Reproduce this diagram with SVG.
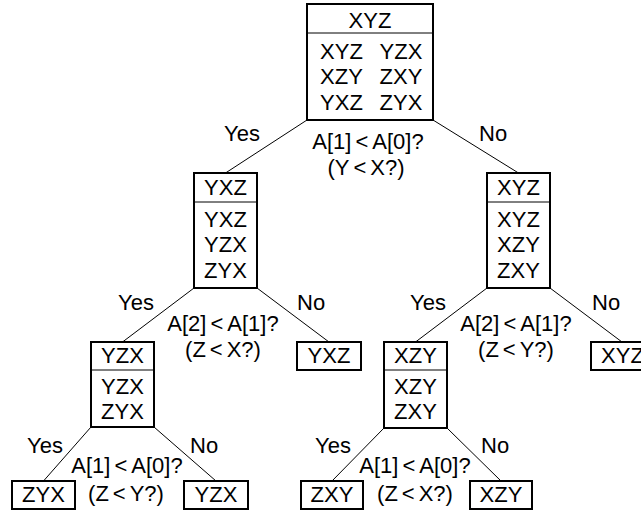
<svg xmlns="http://www.w3.org/2000/svg" width="641" height="510" viewBox="0 0 641 510">
<style>
text{font-family:"Liberation Sans",Arial,Helvetica,sans-serif;font-size:22px;fill:#000}
.m{text-anchor:middle}
.box{fill:#fff;stroke:#000;stroke-width:2}
.sep{stroke:#000;stroke-width:1}
.edge{stroke:#000;stroke-width:1;fill:none}
</style>
<rect width="641" height="510" fill="#fff"/>
<g id="connectors">
<line class="edge" x1="307" y1="120" x2="225.5" y2="173"/>
<line class="edge" x1="433" y1="120" x2="518.5" y2="173"/>
<line class="edge" x1="194" y1="288" x2="122.5" y2="342"/>
<line class="edge" x1="257" y1="288" x2="329" y2="342"/>
<line class="edge" x1="487" y1="288" x2="415.5" y2="342"/>
<line class="edge" x1="550" y1="288" x2="622" y2="342"/>
<line class="edge" x1="91" y1="427" x2="43.5" y2="481"/>
<line class="edge" x1="154" y1="427" x2="216" y2="481"/>
<line class="edge" x1="384" y1="428" x2="332" y2="481"/>
<line class="edge" x1="447" y1="428" x2="501" y2="481"/>
<text x="224" y="141">Yes</text>
<text x="479" y="141">No</text>
<text class="m" x="368" y="149">A[1]<tspan dx="4">&lt;</tspan><tspan dx="4">A[0]?</tspan></text>
<text class="m" x="366" y="175">(Y<tspan dx="4">&lt;</tspan><tspan dx="4">X?)</tspan></text>
<text x="118" y="310">Yes</text>
<text x="297" y="310">No</text>
<text class="m" x="223" y="331">A[2]<tspan dx="4">&lt;</tspan><tspan dx="4">A[1]?</tspan></text>
<text class="m" x="223" y="357">(Z<tspan dx="4">&lt;</tspan><tspan dx="4">X?)</tspan></text>
<text x="410" y="310">Yes</text>
<text x="592" y="310">No</text>
<text class="m" x="516" y="331">A[2]<tspan dx="4">&lt;</tspan><tspan dx="4">A[1]?</tspan></text>
<text class="m" x="516" y="357">(Z<tspan dx="4">&lt;</tspan><tspan dx="4">Y?)</tspan></text>
<text x="27" y="453">Yes</text>
<text x="190" y="453">No</text>
<text class="m" x="127" y="473">A[1]<tspan dx="4">&lt;</tspan><tspan dx="4">A[0]?</tspan></text>
<text class="m" x="126" y="501">(Z<tspan dx="4">&lt;</tspan><tspan dx="4">Y?)</tspan></text>
<text x="315" y="453">Yes</text>
<text x="481" y="453">No</text>
<text class="m" x="415" y="473">A[1]<tspan dx="4">&lt;</tspan><tspan dx="4">A[0]?</tspan></text>
<text class="m" x="415" y="501">(Z<tspan dx="4">&lt;</tspan><tspan dx="4">X?)</tspan></text>
</g>
<g id="root">
<rect class="box" x="307" y="4" width="126" height="116"/>
<line class="sep" x1="307" y1="33" x2="433" y2="33"/>
<text class="m" x="370" y="28">XYZ</text>
<text class="m" x="341.5" y="59">XYZ</text><text class="m" x="401" y="59">YZX</text>
<text class="m" x="341.5" y="84">XZY</text><text class="m" x="401" y="84">ZXY</text>
<text class="m" x="341.5" y="110">YXZ</text><text class="m" x="401" y="110">ZYX</text>
</g>
<g id="n-yxz">
<rect class="box" x="194" y="173" width="63" height="115"/>
<line class="sep" x1="194" y1="202" x2="257" y2="202"/>
<text class="m" x="225.5" y="195">YXZ</text>
<text class="m" x="225.5" y="227">YXZ</text>
<text class="m" x="225.5" y="252">YZX</text>
<text class="m" x="225.5" y="278">ZYX</text>
</g>
<g id="n-xyz">
<rect class="box" x="487" y="173" width="63" height="115"/>
<line class="sep" x1="487" y1="202" x2="550" y2="202"/>
<text class="m" x="518.5" y="195">XYZ</text>
<text class="m" x="518.5" y="227">XYZ</text>
<text class="m" x="518.5" y="252">XZY</text>
<text class="m" x="518.5" y="278">ZXY</text>
</g>
<g id="n-yzx">
<rect class="box" x="91" y="342" width="63" height="85"/>
<line class="sep" x1="91" y1="370" x2="154" y2="370"/>
<text class="m" x="122.5" y="363">YZX</text>
<text class="m" x="122.5" y="394">YZX</text>
<text class="m" x="122.5" y="419">ZYX</text>
</g>
<g id="leaf-yxz">
<rect class="box" x="297" y="342" width="64" height="28"/>
<text class="m" x="329" y="363">YXZ</text>
</g>
<g id="n-xzy">
<rect class="box" x="384" y="342" width="63" height="86"/>
<line class="sep" x1="384" y1="370" x2="447" y2="370"/>
<text class="m" x="415.5" y="363">XZY</text>
<text class="m" x="415.5" y="394">XZY</text>
<text class="m" x="415.5" y="419">ZXY</text>
</g>
<g id="leaf-xyz">
<rect class="box" x="591" y="342" width="63" height="28"/>
<text class="m" x="622.5" y="363">XYZ</text>
</g>
<g id="leaf-zyx">
<rect class="box" x="12" y="481" width="63" height="28"/>
<text class="m" x="43.5" y="502">ZYX</text>
</g>
<g id="leaf-yzx">
<rect class="box" x="184" y="481" width="64" height="28"/>
<text class="m" x="216" y="502">YZX</text>
</g>
<g id="leaf-zxy">
<rect class="box" x="301" y="481" width="62" height="28"/>
<text class="m" x="332" y="502">ZXY</text>
</g>
<g id="leaf-xzy">
<rect class="box" x="470" y="481" width="62" height="28"/>
<text class="m" x="501" y="502">XZY</text>
</g>
</svg>
